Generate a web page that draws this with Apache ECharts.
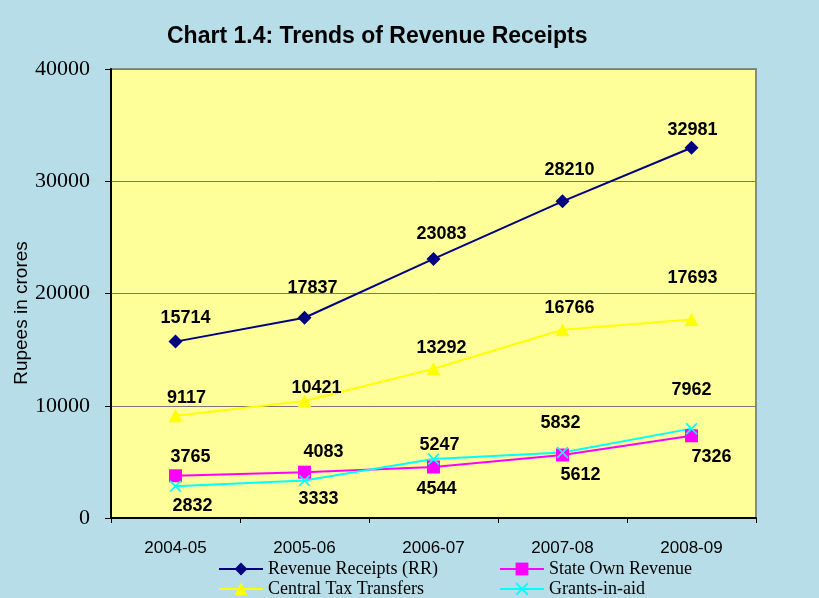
<!DOCTYPE html>
<html>
<head>
<meta charset="utf-8">
<script src="https://cdn.jsdelivr.net/npm/echarts@6/dist/echarts.min.js"></script>
<style>
  html, body { margin: 0; padding: 0; background: #b7dde8; }
  #chart { width: 819px; height: 598px; }
</style>
</head>
<body>
<div id="chart"></div>
<script>
// data (Rs crore)
const years = ['2004-05', '2005-06', '2006-07', '2007-08', '2008-09'];
const revenueReceipts = [15714, 17837, 23083, 28210, 32981];
const stateOwnRevenue = [3765, 4083, 4544, 5612, 7326];
const centralTaxTransfers = [9117, 10421, 13292, 16766, 17693];
const grantsInAid = [2832, 3333, 5247, 5832, 7962];
const yTicks = [0, 10000, 20000, 30000, 40000];

// where each value label sits relative to its point, [dx, dy] in px
const rrOffsets = [[10, -24], [8, -30], [8, -25], [7, -31], [1, -18]];
const sorOffsets = [[15, -19], [19, -20], [3, 22], [18, 20], [20, 21]];
const cttOffsets = [[11, -18], [12, -13], [8, -21], [7, -22], [1, -41]];
const giaOffsets = [[17, 20], [14, 18], [6, -14], [-2, -30], [0, -39]];

const crossPath = 'path://M0,1L1,0L5,4L9,0L10,1L6,5L10,9L9,10L5,6L1,10L0,9L4,5Z';

function makeSeries(name, values, offsets, color, symbol, size) {
    return {
        name: name,
        type: 'line',
        data: values.map((v, i) => ({ value: v, label: { offset: offsets[i] } })),
        symbol: symbol,
        symbolSize: size,
        lineStyle: { color: color, width: 2 },
        itemStyle: { color: color },
        label: {
            show: true,
            position: 'inside',
            color: '#000',
            fontFamily: 'Arial, "Liberation Sans", sans-serif',
            fontWeight: 'bold',
            fontSize: 18
        },
        emphasis: { disabled: true },
        animation: false
    };
}

function legendAt(name, left, top) {
    return {
        data: [name],
        left: left,
        top: top,
        padding: 0,
        itemWidth: 44,
        itemHeight: 16,
        itemGap: 4,
        textStyle: {
            fontFamily: '"Liberation Serif", "Times New Roman", serif',
            fontSize: 18,
            color: '#000'
        }
    };
}

let myChart = echarts.init(document.getElementById('chart'));
myChart.setOption({
    backgroundColor: '#b7dde8',
    title: {
        text: 'Chart 1.4: Trends of Revenue Receipts',
        left: 162,
        top: 20,
        textStyle: {
            fontFamily: 'Arial, "Liberation Sans", sans-serif',
            fontWeight: 'bold',
            fontSize: 23,
            color: '#000'
        }
    },
    legend: [
        legendAt('Revenue Receipts (RR)', 218, 560),
        legendAt('State Own Revenue', 499, 560),
        legendAt('Central Tax Transfers', 218, 580),
        legendAt('Grants-in-aid', 499, 580)
    ],
    grid: {
        left: 111,
        right: 63,
        top: 69,
        bottom: 80,
        show: true,
        backgroundColor: '#ffff99',
        borderColor: '#8a8a8a',
        borderWidth: 2
    },
    graphic: [{
        type: 'text',
        x: 22,
        y: 313,
        rotation: Math.PI / 2,
        style: {
            text: 'Rupees in crores',
            fill: '#000',
            font: '19px Arial, "Liberation Sans", sans-serif',
            textAlign: 'center',
            textVerticalAlign: 'middle'
        }
    }],
    xAxis: {
        type: 'category',
        data: years,
        axisLine: { lineStyle: { color: '#000', width: 2 } },
        axisTick: { show: true, length: 5, lineStyle: { color: '#000' } },
        axisLabel: {
            margin: 22,
            color: '#000',
            fontFamily: 'Arial, "Liberation Sans", sans-serif',
            fontSize: 17
        }
    },
    yAxis: {
        type: 'value',
        min: yTicks[0],
        max: yTicks[yTicks.length - 1],
        interval: yTicks[1] - yTicks[0],
        axisLine: { show: true, lineStyle: { color: '#000', width: 2 } },
        axisTick: { show: true, length: 6, lineStyle: { color: '#000' } },
        splitLine: { lineStyle: { color: '#777', width: 1 } },
        axisLabel: {
            margin: 21,
            color: '#000',
            fontFamily: '"Liberation Serif", "Times New Roman", serif',
            fontSize: 22,
            formatter: v => String(v)
        }
    },
    series: [
        makeSeries('Revenue Receipts (RR)', revenueReceipts, rrOffsets, '#000080', 'diamond', [14, 14]),
        makeSeries('State Own Revenue', stateOwnRevenue, sorOffsets, '#ff00ff', 'rect', [13, 13]),
        makeSeries('Central Tax Transfers', centralTaxTransfers, cttOffsets, '#ffff00', 'triangle', [14, 13]),
        makeSeries('Grants-in-aid', grantsInAid, giaOffsets, '#00ffff', crossPath, [12, 12])
    ]
});
</script>
</body>
</html>
